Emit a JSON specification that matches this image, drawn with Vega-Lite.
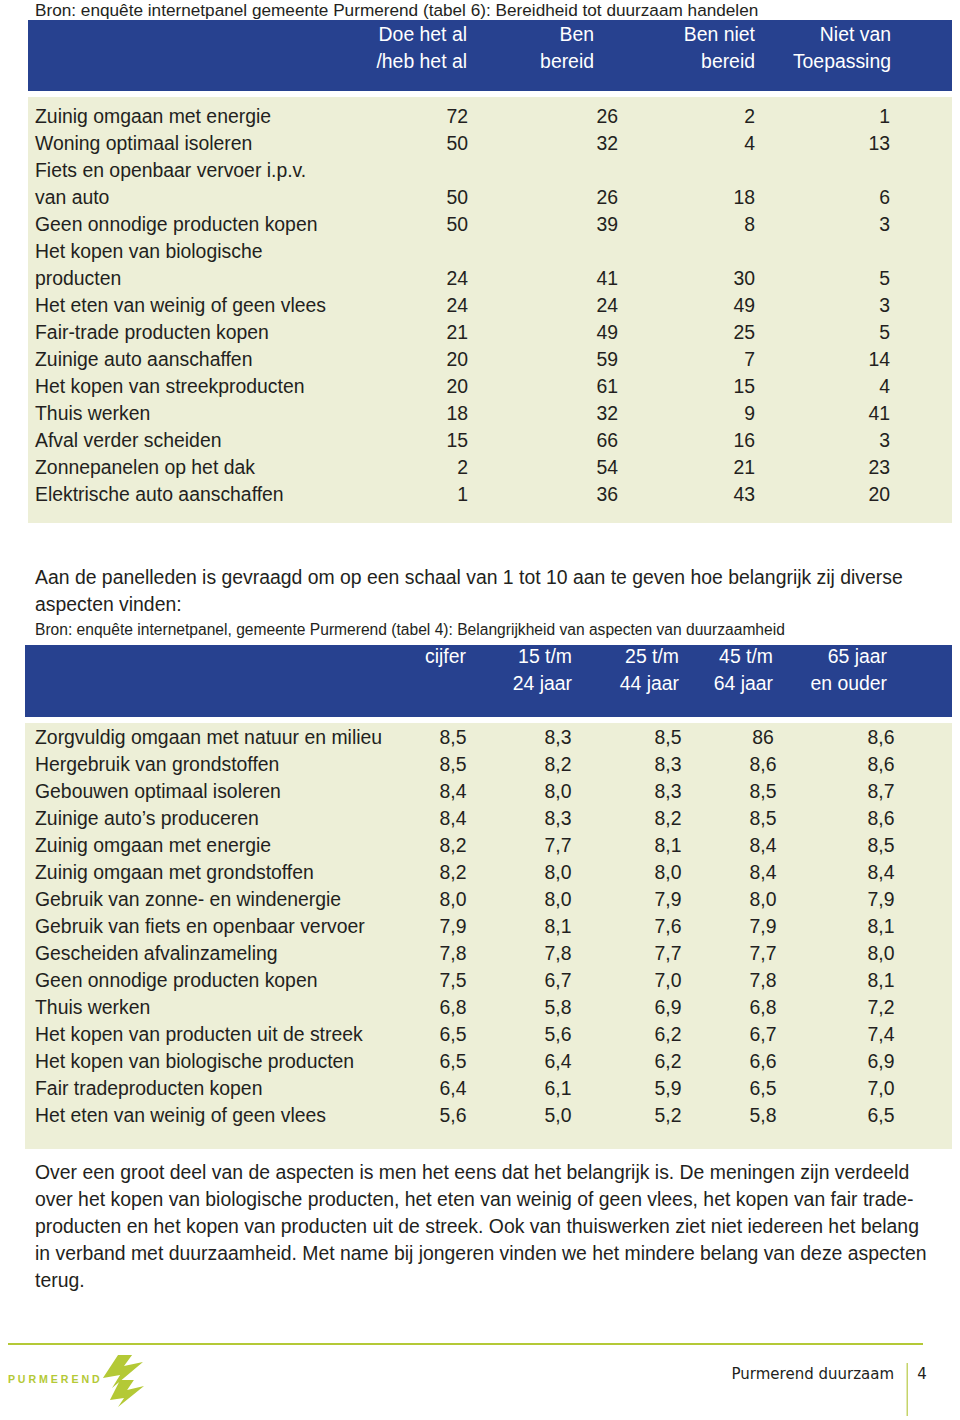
{
  "$schema": "https://vega.github.io/schema/vega-lite/v6.json",
  "width": 960,
  "height": 1420,
  "padding": 0,
  "autosize": {"type": "none"},
  "background": "#ffffff",
  "config": {
    "view": {"stroke": null},
    "text": {"font": "Liberation Sans", "baseline": "alphabetic", "color": "#231f20"},
    "locale": {"number": {"decimal": ",", "thousands": ".", "grouping": [3], "currency": ["€", ""]}}
  },
  "resolve": {"scale": {"x": "independent", "y": "independent"}},
  "datasets": {
    "tabel6": [
      {"regel": 1, "aspect": "Zuinig omgaan met energie", "Doe het al": 72, "Ben bereid": 26, "Ben niet bereid": 2, "Niet van toepassing": 1},
      {"regel": 2, "aspect": "Woning optimaal isoleren", "Doe het al": 50, "Ben bereid": 32, "Ben niet bereid": 4, "Niet van toepassing": 13},
      {"regel": 3, "aspect": "Fiets en openbaar vervoer i.p.v."},
      {"regel": 4, "aspect": "van auto", "Doe het al": 50, "Ben bereid": 26, "Ben niet bereid": 18, "Niet van toepassing": 6},
      {"regel": 5, "aspect": "Geen onnodige producten kopen", "Doe het al": 50, "Ben bereid": 39, "Ben niet bereid": 8, "Niet van toepassing": 3},
      {"regel": 6, "aspect": "Het kopen van biologische"},
      {"regel": 7, "aspect": "producten", "Doe het al": 24, "Ben bereid": 41, "Ben niet bereid": 30, "Niet van toepassing": 5},
      {"regel": 8, "aspect": "Het eten van weinig of geen vlees", "Doe het al": 24, "Ben bereid": 24, "Ben niet bereid": 49, "Niet van toepassing": 3},
      {"regel": 9, "aspect": "Fair-trade producten kopen", "Doe het al": 21, "Ben bereid": 49, "Ben niet bereid": 25, "Niet van toepassing": 5},
      {"regel": 10, "aspect": "Zuinige auto aanschaffen", "Doe het al": 20, "Ben bereid": 59, "Ben niet bereid": 7, "Niet van toepassing": 14},
      {"regel": 11, "aspect": "Het kopen van streekproducten", "Doe het al": 20, "Ben bereid": 61, "Ben niet bereid": 15, "Niet van toepassing": 4},
      {"regel": 12, "aspect": "Thuis werken", "Doe het al": 18, "Ben bereid": 32, "Ben niet bereid": 9, "Niet van toepassing": 41},
      {"regel": 13, "aspect": "Afval verder scheiden", "Doe het al": 15, "Ben bereid": 66, "Ben niet bereid": 16, "Niet van toepassing": 3},
      {"regel": 14, "aspect": "Zonnepanelen op het dak", "Doe het al": 2, "Ben bereid": 54, "Ben niet bereid": 21, "Niet van toepassing": 23},
      {"regel": 15, "aspect": "Elektrische auto aanschaffen", "Doe het al": 1, "Ben bereid": 36, "Ben niet bereid": 43, "Niet van toepassing": 20}
    ],
    "kolommen6": [
      {"veld": "Doe het al", "nr": 1, "kop": "Doe het al", "kop2": "/heb het al"},
      {"veld": "Ben bereid", "nr": 2, "kop": "Ben", "kop2": "bereid"},
      {"veld": "Ben niet bereid", "nr": 3, "kop": "Ben niet", "kop2": "bereid"},
      {"veld": "Niet van toepassing", "nr": 4, "kop": "Niet van", "kop2": "Toepassing"}
    ],
    "tabel4": [
      {"regel": 1, "aspect": "Zorgvuldig omgaan met natuur en milieu", "cijfer": 8.5, "15-24": 8.3, "25-44": 8.5, "45-64": 86, "65+": 8.6},
      {"regel": 2, "aspect": "Hergebruik van grondstoffen", "cijfer": 8.5, "15-24": 8.2, "25-44": 8.3, "45-64": 8.6, "65+": 8.6},
      {"regel": 3, "aspect": "Gebouwen optimaal isoleren", "cijfer": 8.4, "15-24": 8.0, "25-44": 8.3, "45-64": 8.5, "65+": 8.7},
      {"regel": 4, "aspect": "Zuinige auto’s produceren", "cijfer": 8.4, "15-24": 8.3, "25-44": 8.2, "45-64": 8.5, "65+": 8.6},
      {"regel": 5, "aspect": "Zuinig omgaan met energie", "cijfer": 8.2, "15-24": 7.7, "25-44": 8.1, "45-64": 8.4, "65+": 8.5},
      {"regel": 6, "aspect": "Zuinig omgaan met grondstoffen", "cijfer": 8.2, "15-24": 8.0, "25-44": 8.0, "45-64": 8.4, "65+": 8.4},
      {"regel": 7, "aspect": "Gebruik van zonne- en windenergie", "cijfer": 8.0, "15-24": 8.0, "25-44": 7.9, "45-64": 8.0, "65+": 7.9},
      {"regel": 8, "aspect": "Gebruik van fiets en openbaar vervoer", "cijfer": 7.9, "15-24": 8.1, "25-44": 7.6, "45-64": 7.9, "65+": 8.1},
      {"regel": 9, "aspect": "Gescheiden afvalinzameling", "cijfer": 7.8, "15-24": 7.8, "25-44": 7.7, "45-64": 7.7, "65+": 8.0},
      {"regel": 10, "aspect": "Geen onnodige producten kopen", "cijfer": 7.5, "15-24": 6.7, "25-44": 7.0, "45-64": 7.8, "65+": 8.1},
      {"regel": 11, "aspect": "Thuis werken", "cijfer": 6.8, "15-24": 5.8, "25-44": 6.9, "45-64": 6.8, "65+": 7.2},
      {"regel": 12, "aspect": "Het kopen van producten uit de streek", "cijfer": 6.5, "15-24": 5.6, "25-44": 6.2, "45-64": 6.7, "65+": 7.4},
      {"regel": 13, "aspect": "Het kopen van biologische producten", "cijfer": 6.5, "15-24": 6.4, "25-44": 6.2, "45-64": 6.6, "65+": 6.9},
      {"regel": 14, "aspect": "Fair tradeproducten kopen", "cijfer": 6.4, "15-24": 6.1, "25-44": 5.9, "45-64": 6.5, "65+": 7.0},
      {"regel": 15, "aspect": "Het eten van weinig of geen vlees", "cijfer": 5.6, "15-24": 5.0, "25-44": 5.2, "45-64": 5.8, "65+": 6.5}
    ],
    "kolommen4": [
      {"veld": "cijfer", "nr": 1, "kop": "cijfer"},
      {"veld": "15-24", "nr": 2, "kop": "15 t/m", "kop2": "24 jaar"},
      {"veld": "25-44", "nr": 3, "kop": "25 t/m", "kop2": "44 jaar"},
      {"veld": "45-64", "nr": 4, "kop": "45 t/m", "kop2": "64 jaar"},
      {"veld": "65+", "nr": 5, "kop": "65 jaar", "kop2": "en ouder"}
    ]
  },
  "layer": [
    {
      "data": {"values": [{"vlak": "kop tabel 6"}]},
      "mark": {"type": "rect", "color": "#27418f"},
      "encoding": {
        "x": {"field": "vlak", "type": "nominal", "scale": {"type": "band", "range": [28, 952], "paddingInner": 0, "paddingOuter": 0}, "axis": null},
        "y": {"field": "vlak", "type": "nominal", "scale": {"type": "band", "range": [20, 91], "paddingInner": 0, "paddingOuter": 0}, "axis": null}
      }
    },
    {
      "data": {"values": [{"vlak": "tabel 6"}]},
      "mark": {"type": "rect", "color": "#edefd7"},
      "encoding": {
        "x": {"field": "vlak", "type": "nominal", "scale": {"type": "band", "range": [28, 952], "paddingInner": 0, "paddingOuter": 0}, "axis": null},
        "y": {"field": "vlak", "type": "nominal", "scale": {"type": "band", "range": [97, 523], "paddingInner": 0, "paddingOuter": 0}, "axis": null}
      }
    },
    {
      "data": {"values": [{"vlak": "kop tabel 4"}]},
      "mark": {"type": "rect", "color": "#27418f"},
      "encoding": {
        "x": {"field": "vlak", "type": "nominal", "scale": {"type": "band", "range": [25, 952], "paddingInner": 0, "paddingOuter": 0}, "axis": null},
        "y": {"field": "vlak", "type": "nominal", "scale": {"type": "band", "range": [645, 717], "paddingInner": 0, "paddingOuter": 0}, "axis": null}
      }
    },
    {
      "data": {"values": [{"vlak": "tabel 4"}]},
      "mark": {"type": "rect", "color": "#edefd7"},
      "encoding": {
        "x": {"field": "vlak", "type": "nominal", "scale": {"type": "band", "range": [25, 952], "paddingInner": 0, "paddingOuter": 0}, "axis": null},
        "y": {"field": "vlak", "type": "nominal", "scale": {"type": "band", "range": [723, 1149], "paddingInner": 0, "paddingOuter": 0}, "axis": null}
      }
    },
    {
      "data": {"values": [{"vlak": "voetlijn"}]},
      "mark": {"type": "rect", "color": "#b4c936"},
      "encoding": {
        "x": {"field": "vlak", "type": "nominal", "scale": {"type": "band", "range": [8, 923], "paddingInner": 0, "paddingOuter": 0}, "axis": null},
        "y": {"field": "vlak", "type": "nominal", "scale": {"type": "band", "range": [1343, 1345], "paddingInner": 0, "paddingOuter": 0}, "axis": null}
      }
    },
    {
      "data": {"values": [{"vlak": "scheidingslijn"}]},
      "mark": {"type": "rect", "color": "#c5d46a"},
      "encoding": {
        "x": {"field": "vlak", "type": "nominal", "scale": {"type": "band", "range": [906.5, 908], "paddingInner": 0, "paddingOuter": 0}, "axis": null},
        "y": {"field": "vlak", "type": "nominal", "scale": {"type": "band", "range": [1363, 1416], "paddingInner": 0, "paddingOuter": 0}, "axis": null}
      }
    },
    {
      "data": {"values": [{"regel": 1, "tekst": "Bron: enquête internetpanel gemeente Purmerend (tabel 6): Bereidheid tot duurzaam handelen"}]},
      "mark": {"type": "text", "align": "left", "fontSize": 17.2},
      "encoding": {
        "x": {"datum": 0, "type": "quantitative", "scale": {"domain": [0, 1], "range": [35, 960], "nice": false, "zero": false}, "axis": null},
        "y": {"field": "regel", "type": "quantitative", "scale": {"domain": [1, 2], "range": [16, 43], "nice": false, "zero": false}, "axis": null},
        "text": {"field": "tekst"}
      }
    },
    {
      "data": {"name": "kolommen6"},
      "transform": [
        {"fold": ["kop", "kop2"], "as": ["kopregel", "koptekst"]},
        {"filter": "isValid(datum.koptekst)"}
      ],
      "mark": {"type": "text", "align": "right", "fontSize": 19.4, "color": "#ffffff"},
      "encoding": {
        "x": {"field": "nr", "type": "quantitative", "scale": {"domain": [1, 2, 3, 4], "range": [467, 594, 755, 891], "nice": false, "zero": false}, "axis": null},
        "y": {"field": "kopregel", "type": "nominal", "scale": {"type": "point", "domain": ["kop", "kop2"], "range": [41, 68], "padding": 0}, "axis": null},
        "text": {"field": "koptekst"}
      }
    },
    {
      "data": {"name": "tabel6"},
      "layer": [
        {
          "mark": {"type": "text", "align": "left", "fontSize": 19.4},
          "encoding": {
            "x": {"datum": 0, "type": "quantitative", "scale": {"domain": [0, 1, 2, 3, 4], "range": [35, 468, 618, 755, 890], "nice": false, "zero": false}, "axis": null},
            "y": {"field": "regel", "type": "quantitative", "scale": {"domain": [1, 15], "range": [123, 501], "nice": false, "zero": false}, "axis": null},
            "text": {"field": "aspect"}
          }
        },
        {
          "transform": [
            {"fold": ["Doe het al", "Ben bereid", "Ben niet bereid", "Niet van toepassing"], "as": ["veld", "waarde"]},
            {"filter": "isValid(datum.waarde)"},
            {"lookup": "veld", "from": {"data": {"name": "kolommen6"}, "key": "veld", "fields": ["nr"]}}
          ],
          "mark": {"type": "text", "align": "right", "fontSize": 19.4},
          "encoding": {
            "x": {"field": "nr", "type": "quantitative", "scale": {"domain": [0, 1, 2, 3, 4], "range": [35, 468, 618, 755, 890], "nice": false, "zero": false}, "axis": null},
            "y": {"field": "regel", "type": "quantitative", "scale": {"domain": [1, 15], "range": [123, 501], "nice": false, "zero": false}, "axis": null},
            "text": {"field": "waarde", "type": "quantitative", "format": "d"}
          }
        }
      ]
    },
    {
      "data": {"values": [
        {"regel": 1, "tekst": "Aan de panelleden is gevraagd om op een schaal van 1 tot 10 aan te geven hoe belangrijk zij diverse"},
        {"regel": 2, "tekst": "aspecten vinden:"}
      ]},
      "mark": {"type": "text", "align": "left", "fontSize": 19.4},
      "encoding": {
        "x": {"datum": 0, "type": "quantitative", "scale": {"domain": [0, 1], "range": [35, 960], "nice": false, "zero": false}, "axis": null},
        "y": {"field": "regel", "type": "quantitative", "scale": {"domain": [1, 2], "range": [584, 611], "nice": false, "zero": false}, "axis": null},
        "text": {"field": "tekst"}
      }
    },
    {
      "data": {"values": [{"regel": 1, "tekst": "Bron: enquête internetpanel,  gemeente Purmerend (tabel 4): Belangrijkheid van aspecten van duurzaamheid"}]},
      "mark": {"type": "text", "align": "left", "fontSize": 15.6},
      "encoding": {
        "x": {"datum": 0, "type": "quantitative", "scale": {"domain": [0, 1], "range": [35, 960], "nice": false, "zero": false}, "axis": null},
        "y": {"field": "regel", "type": "quantitative", "scale": {"domain": [1, 2], "range": [635, 662], "nice": false, "zero": false}, "axis": null},
        "text": {"field": "tekst"}
      }
    },
    {
      "data": {"name": "kolommen4"},
      "transform": [
        {"fold": ["kop", "kop2"], "as": ["kopregel", "koptekst"]},
        {"filter": "isValid(datum.koptekst)"}
      ],
      "mark": {"type": "text", "align": "right", "fontSize": 19.4, "color": "#ffffff"},
      "encoding": {
        "x": {"field": "nr", "type": "quantitative", "scale": {"domain": [1, 2, 3, 4, 5], "range": [466, 572, 679, 773, 887], "nice": false, "zero": false}, "axis": null},
        "y": {"field": "kopregel", "type": "nominal", "scale": {"type": "point", "domain": ["kop", "kop2"], "range": [663, 690], "padding": 0}, "axis": null},
        "text": {"field": "koptekst"}
      }
    },
    {
      "data": {"name": "tabel4"},
      "layer": [
        {
          "mark": {"type": "text", "align": "left", "fontSize": 19.4},
          "encoding": {
            "x": {"datum": 0, "type": "quantitative", "scale": {"domain": [0, 1, 2, 3, 4, 5], "range": [35, 453, 558, 668, 763, 881], "nice": false, "zero": false}, "axis": null},
            "y": {"field": "regel", "type": "quantitative", "scale": {"domain": [1, 15], "range": [744, 1122], "nice": false, "zero": false}, "axis": null},
            "text": {"field": "aspect"}
          }
        },
        {
          "transform": [
            {"fold": ["cijfer", "15-24", "25-44", "45-64", "65+"], "as": ["veld", "waarde"]},
            {"filter": "isValid(datum.waarde)"},
            {"lookup": "veld", "from": {"data": {"name": "kolommen4"}, "key": "veld", "fields": ["nr"]}}
          ],
          "mark": {"type": "text", "align": "center", "fontSize": 19.4},
          "encoding": {
            "x": {"field": "nr", "type": "quantitative", "scale": {"domain": [0, 1, 2, 3, 4, 5], "range": [35, 453, 558, 668, 763, 881], "nice": false, "zero": false}, "axis": null},
            "y": {"field": "regel", "type": "quantitative", "scale": {"domain": [1, 15], "range": [744, 1122], "nice": false, "zero": false}, "axis": null},
            "text": {"field": "waarde", "type": "quantitative", "format": ".2r"}
          }
        }
      ]
    },
    {
      "data": {"values": [
        {"regel": 1, "tekst": "Over een groot deel van de aspecten is men het eens dat het belangrijk is. De meningen zijn verdeeld"},
        {"regel": 2, "tekst": "over het kopen van biologische producten, het eten van weinig of geen vlees, het kopen van fair trade-"},
        {"regel": 3, "tekst": "producten en het kopen van producten uit de streek. Ook van thuiswerken ziet niet iedereen het belang"},
        {"regel": 4, "tekst": "in verband met duurzaamheid. Met name bij jongeren vinden we het mindere belang van deze aspecten"},
        {"regel": 5, "tekst": "terug."}
      ]},
      "mark": {"type": "text", "align": "left", "fontSize": 19.4},
      "encoding": {
        "x": {"datum": 0, "type": "quantitative", "scale": {"domain": [0, 1], "range": [35, 960], "nice": false, "zero": false}, "axis": null},
        "y": {"field": "regel", "type": "quantitative", "scale": {"domain": [1, 5], "range": [1179, 1287], "nice": false, "zero": false}, "axis": null},
        "text": {"field": "tekst"}
      }
    },
    {
      "data": {"values": [{"merk": "PURMEREND", "tekst": "P U R M E R E N D"}]},
      "mark": {"type": "text", "align": "left", "fontSize": 10.6, "fontWeight": "bold", "color": "#b4c936"},
      "encoding": {
        "x": {"datum": 0, "type": "quantitative", "scale": {"domain": [0, 1], "range": [8, 960], "nice": false, "zero": false}, "axis": null},
        "y": {"datum": 0, "type": "quantitative", "scale": {"domain": [0, 1], "range": [1383, 1420], "nice": false, "zero": false}, "axis": null},
        "text": {"field": "tekst"}
      }
    },
    {
      "data": {"values": [{"merk": "PURMEREND logo"}]},
      "mark": {"type": "point", "filled": true, "opacity": 1, "color": "#b4c936", "size": 2704, "shape": "M-0.23,-1L0.31,-1L0,-0.58L0.73,-0.73L-0.46,0.27L-0.15,-0.23L-0.81,-0.12ZM-0.15,-0.04L0.38,-0.04L0.12,0.35L0.77,0.19L-0.23,1L0,0.65L-0.54,0.73Z"},
      "encoding": {
        "x": {"datum": 0, "type": "quantitative", "scale": {"domain": [0, 1], "range": [124, 960], "nice": false, "zero": false}, "axis": null},
        "y": {"datum": 0, "type": "quantitative", "scale": {"domain": [0, 1], "range": [1381, 1420], "nice": false, "zero": false}, "axis": null}
      }
    },
    {
      "data": {"values": [{"tekst": "Purmerend duurzaam"}]},
      "mark": {"type": "text", "align": "right", "fontSize": 15, "font": "DejaVu Sans"},
      "encoding": {
        "x": {"datum": 0, "type": "quantitative", "scale": {"domain": [0, 1], "range": [894, 960], "nice": false, "zero": false}, "axis": null},
        "y": {"datum": 0, "type": "quantitative", "scale": {"domain": [0, 1], "range": [1379, 1420], "nice": false, "zero": false}, "axis": null},
        "text": {"field": "tekst"}
      }
    },
    {
      "data": {"values": [{"pagina": 4}]},
      "mark": {"type": "text", "align": "center", "fontSize": 15, "font": "DejaVu Sans"},
      "encoding": {
        "x": {"datum": 0, "type": "quantitative", "scale": {"domain": [0, 1], "range": [922, 960], "nice": false, "zero": false}, "axis": null},
        "y": {"datum": 0, "type": "quantitative", "scale": {"domain": [0, 1], "range": [1379, 1420], "nice": false, "zero": false}, "axis": null},
        "text": {"field": "pagina", "type": "quantitative"}
      }
    }
  ]
}
